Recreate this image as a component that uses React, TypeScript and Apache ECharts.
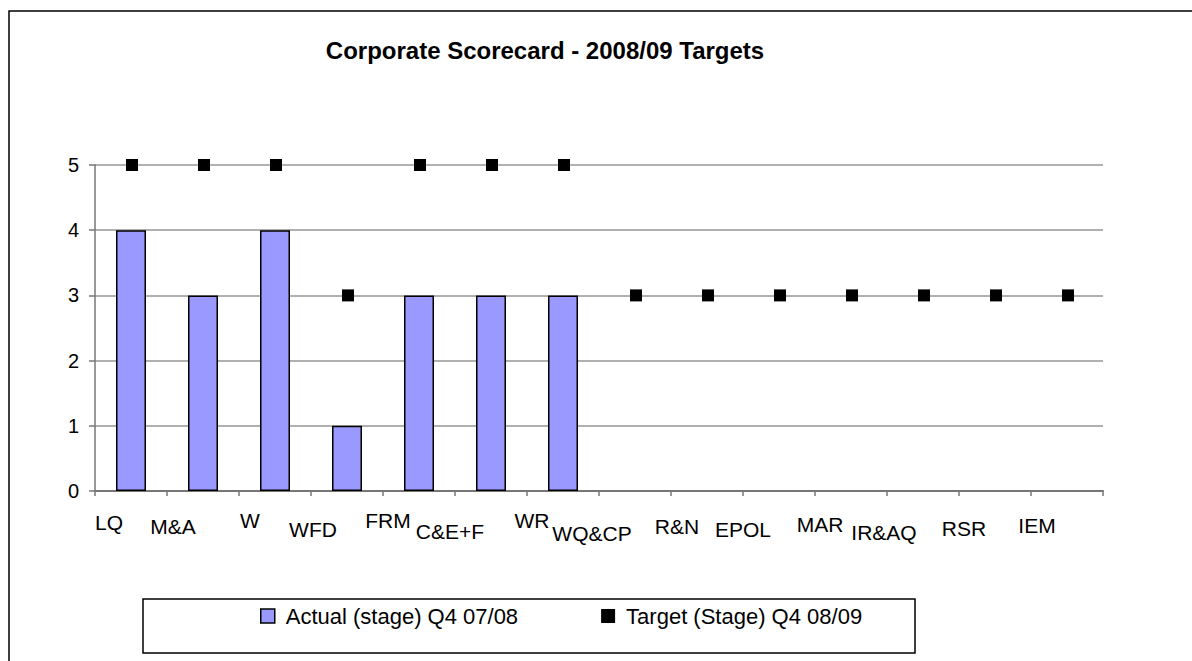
import React, { useEffect, useRef } from "react";
import * as echarts from "echarts";

const categories = ["LQ", "M&A", "W", "WFD", "FRM", "C&E+F", "WR", "WQ&CP", "R&N", "EPOL", "MAR", "IR&AQ", "RSR", "IEM"];
const actualStage = [4, 3, 4, 1, 3, 3, 3, null, null, null, null, null, null, null];
const targetStage = [5, 5, 5, 3, 5, 5, 5, 3, 3, 3, 3, 3, 3, 3];
const seriesNames = ["Actual (stage) Q4 07/08", "Target (Stage) Q4 08/09"];
const titleText = "Corporate Scorecard - 2008/09 Targets";

// label layout shifts [dx, dy] (layout only, not data)
const labelShift: [number, number][] = [
  [-22, 2], [-30, 6], [-25, 0], [-34, 9], [-31, 0], [-41, 11], [-31, 0],
  [-43, 13], [-30, 6], [-36, 9], [-31, 4], [-39, 12], [-31, 8], [-30, 5],
];

const FONT = "'Liberation Sans', Arial, sans-serif";

export default function App() {
  const ref = useRef<HTMLDivElement>(null);
  useEffect(() => {
    if (!ref.current) return;
    const chart = echarts.init(ref.current, null, { renderer: "svg" });
    const rich: Record<string, any> = {};
    labelShift.forEach(([dx, dy], i) => {
      rich["l" + i] = {
        fontSize: 21,
        fontFamily: FONT,
        color: "#000",
        padding: [dy, dx < 0 ? -2 * dx : 0, 0, dx > 0 ? 2 * dx : 0],
      };
    });
    chart.setOption({
      animation: false,
      backgroundColor: "#fff",
      title: {
        text: titleText,
        left: 540,
        textAlign: "center",
        top: 33,
        textStyle: { fontFamily: FONT, fontSize: 24, fontWeight: "bold", color: "#000" },
      },
      grid: { left: 95, right: 89, top: 165, bottom: 170, containLabel: false },
      legend: {
        left: 255,
        top: 600,
        itemWidth: 14,
        itemHeight: 14,
        itemGap: 83,
        textStyle: { fontFamily: FONT, fontSize: 22, color: "#000", padding: [0, 0, 0, 6] },
        data: [
          { name: seriesNames[0], icon: "rect", itemStyle: { color: "#9999FF", borderColor: "#000", borderWidth: 1.5 } },
          { name: seriesNames[1], icon: "rect", itemStyle: { color: "#000", opacity: 1 } },
        ],
      },
      xAxis: {
        type: "category",
        data: categories,
        axisLine: { show: true, lineStyle: { color: "#777", width: 2 } },
        axisTick: { show: true, length: 5, lineStyle: { color: "#777", width: 1.5 } },
        axisLabel: {
          interval: 0,
          margin: 19,
          fontFamily: FONT,
          fontSize: 21,
          color: "#000",
          formatter: (v: string, i: number) => `{l${i}|${v}}`,
          rich,
        },
        splitLine: { show: false },
      },
      yAxis: {
        type: "value",
        min: 0,
        max: 5,
        interval: 1,
        axisLine: { show: true, lineStyle: { color: "#777", width: 1.5 } },
        axisTick: { show: true, length: 6, lineStyle: { color: "#777", width: 1.5 } },
        axisLabel: { margin: 16, fontFamily: FONT, fontSize: 20, color: "#000" },
        splitLine: { show: true, lineStyle: { color: "#b0b0b0", width: 2 } },
      },
      graphic: [
        {
          type: "rect",
          shape: { x: 9, y: 11, width: 1300, height: 800 },
          style: { fill: "none", stroke: "#000", lineWidth: 1.5 },
          silent: true,
        },
        {
          type: "rect",
          shape: { x: 143, y: 599, width: 772, height: 54 },
          style: { fill: "none", stroke: "#000", lineWidth: 1.5 },
          silent: true,
        },
      ],
      series: [
        {
          name: seriesNames[0],
          type: "bar",
          data: actualStage,
          barWidth: 30,
          itemStyle: { color: "#9999FF", borderColor: "#000", borderWidth: 1.5 },
        },
        {
          name: seriesNames[1],
          type: "scatter",
          data: targetStage,
          symbol: "rect",
          symbolSize: 12,
          symbolOffset: [1, 0],
          itemStyle: { color: "#000", opacity: 1 },
        },
      ],
    });
    return () => chart.dispose();
  }, []);
  return (
    <div
      ref={ref}
      style={{ position: "fixed", left: 0, top: 0, width: 1192, height: 661 }}
    />
  );
}
